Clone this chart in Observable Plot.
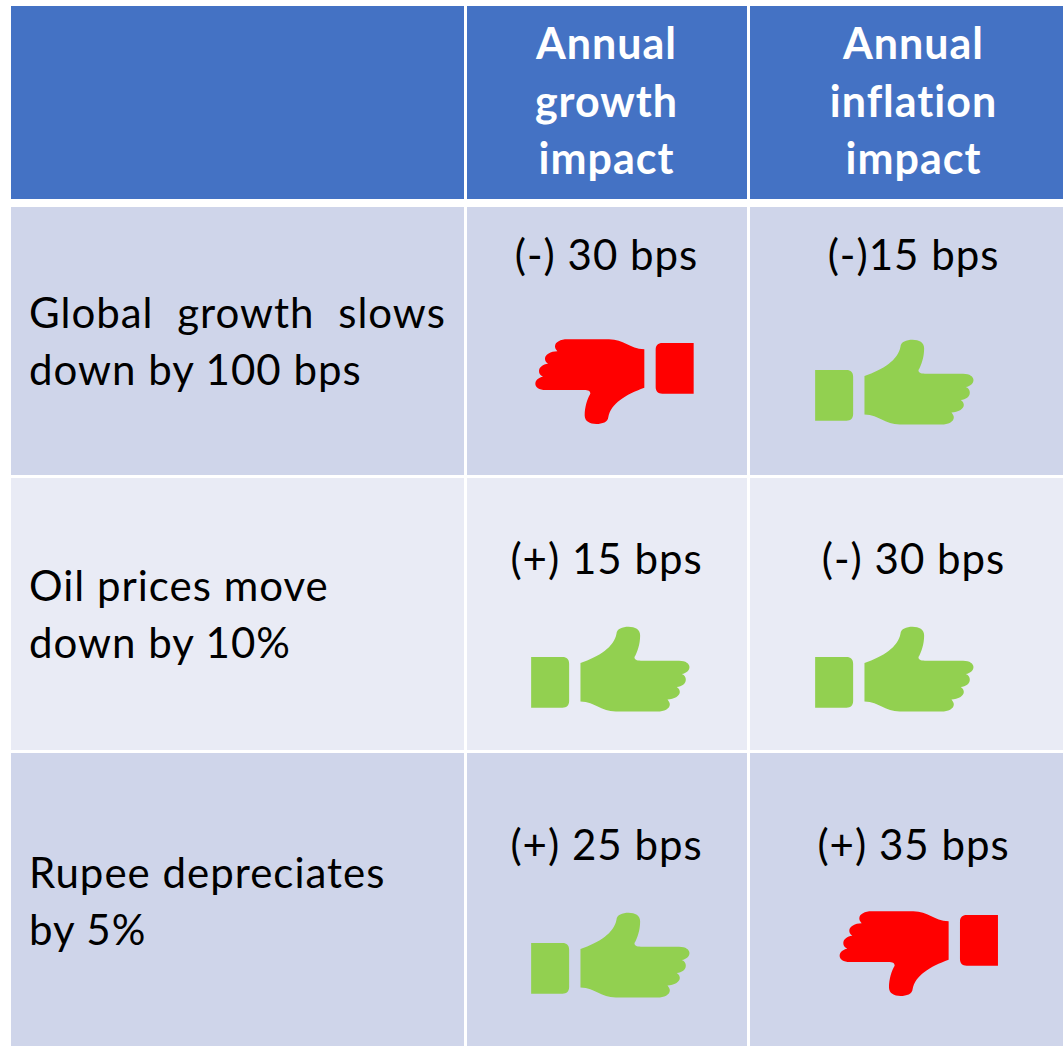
<!DOCTYPE html>
<html>
<head>
<meta charset="utf-8">
<script src="https://cdn.jsdelivr.net/npm/d3@7"></script>
<script src="https://cdn.jsdelivr.net/npm/@observablehq/plot@0.6"></script>
<style>
  html, body { margin: 0; background: #fff; }
  svg { display: block; }
  svg text { letter-spacing: 1px; }
</style>
</head>
<body>
<script>
// Sensitivity table: effect of three macro shocks on growth and inflation.
const columnTitles = [["Annual", "growth", "impact"], ["Annual", "inflation", "impact"]];
const shocks = [
  ["Global growth slows", "down by 100 bps"],
  ["Oil prices move", "down by 10%"],
  ["Rupee depreciates", "by 5%"]
];
const growthImpact = [-30, 15, 25];
const inflationImpact = [-15, -30, 35];
const impactLabels = [
  ["(-) 30 bps", "(-)15 bps"],
  ["(+) 15 bps", "(-) 30 bps"],
  ["(+) 25 bps", "(+) 35 bps"]
];

// Table geometry, kept apart from the figures above.
const colEdges = [[11, 464], [467, 747], [750, 1063]];
const headerEdge = [6, 199];
const rowEdges = [[207, 475], [478, 750], [753, 1046]];
const rowFills = ["#CFD5EA", "#E9EBF5", "#CFD5EA"];
const shockBaselines = [[327, 384], [600, 657], [887, 944]];
const impactCentres = [606, 913];
const impactBaselines = [269, 573, 859];
const headerBaselines = [58, 116, 173];
const thumbCentres = [
  [[614, 381.2], [893.8, 381.6]],
  [[609.8, 668.6], [893.8, 668.6]],
  [[609.8, 954.6], [918.3, 953.2]]
];

// Hand outline, drawn pointing up around the origin; flip = -1 turns it upside down.
function thumbSymbol(flip) {
  const k = flip / 3, cx = 283.5, cy = 171;
  const X = (x) => (x - cx) * k, Y = (y) => (y - cy) * k;
  return {
    draw(c) {
      const C = (a, b, d, e, f, g) => c.bezierCurveTo(X(a), Y(b), X(d), Y(e), X(f), Y(g));
      const L = (x, y) => c.lineTo(X(x), Y(y));
      // cuff
      c.moveTo(X(46), Y(135));
      L(140, 135);
      C(153, 135, 160, 142, 160, 155);
      L(160, 267);
      C(160, 280, 153, 287, 140, 287);
      L(46, 287);
      c.closePath();
      // hand
      c.moveTo(X(194), Y(153));
      C(250, 133, 295, 105, 302, 65);
      C(303, 50, 320, 44, 338, 44);
      C(358, 44, 373, 52, 373, 70);
      C(373, 95, 365, 120, 356, 135);
      C(356, 143, 362, 146, 375, 146);
      L(490, 146);
      C(510, 146, 521, 155, 521, 165);
      C(521, 175, 512, 184, 498, 186);
      C(507, 190, 510, 196, 510, 203);
      C(510, 215, 498, 223, 483, 225);
      C(490, 230, 492, 235, 492, 240);
      C(492, 252, 475, 262, 455, 262);
      C(460, 268, 462, 272, 462, 277);
      C(462, 290, 445, 298, 425, 298);
      L(300, 298);
      C(255, 298, 240, 270, 194, 268);
      c.closePath();
    }
  };
}

const font = "Lato";
const textSize = 42;

// Body cells: higher growth is good, higher inflation is bad.
const cells = shocks.flatMap((_, r) => [growthImpact[r], inflationImpact[r]].map((value, c) => ({
  value,
  label: impactLabels[r][c],
  favourable: c === 0 ? value > 0 : value < 0,
  x: impactCentres[c],
  y: impactBaselines[r],
  tx: thumbCentres[r][c][0],
  ty: thumbCentres[r][c][1]
})));

const backgrounds = [
  ...colEdges.map(([x1, x2]) => ({ x1, x2, y1: headerEdge[0], y2: headerEdge[1], fill: "#4472C4" })),
  ...rowEdges.flatMap(([y1, y2], r) => colEdges.map(([x1, x2]) => ({ x1, x2, y1, y2, fill: rowFills[r] })))
];

const headerLines = columnTitles.flatMap((lines, c) =>
  lines.map((text, i) => ({ text, x: impactCentres[c], y: headerBaselines[i] })));

const shockLines = shocks.flatMap((lines, r) =>
  lines.map((text, i) => ({ text, y: shockBaselines[r][i] })));

const plot = Plot.plot({
  width: 1063,
  height: 1046,
  margin: 0,
  x: { domain: [0, 1063], range: [0, 1063], axis: null },
  y: { domain: [0, 1046], range: [0, 1046], axis: null },
  style: { background: "#fff", fontFamily: font },
  marks: [
    Plot.rect(backgrounds, { x1: "x1", x2: "x2", y1: "y1", y2: "y2", fill: "fill", inset: 0 }),
    Plot.text(headerLines, {
      x: "x", y: "y", text: "text", fill: "#fff", fontSize: textSize + 1, fontWeight: 700,
      lineAnchor: "bottom", textAnchor: "middle", fontFamily: font
    }),
    Plot.text(shockLines, {
      x: 28.5, y: "y", text: "text", fill: "#000", fontSize: textSize,
      lineAnchor: "bottom", textAnchor: "start", fontFamily: font
    }),
    Plot.text(cells, {
      x: "x", y: "y", text: "label", fill: "#000", fontSize: textSize,
      lineAnchor: "bottom", textAnchor: "middle", fontFamily: font
    }),
    Plot.dot(cells.filter((d) => d.favourable), {
      x: "tx", y: "ty", symbol: thumbSymbol(1), fill: "#92D050", stroke: "none", r: 10
    }),
    Plot.dot(cells.filter((d) => !d.favourable), {
      x: "tx", y: "ty", symbol: thumbSymbol(-1), fill: "#FF0000", stroke: "none", r: 10
    })
  ]
});

// The first row label is justified across the width of its cell.
for (const t of plot.querySelectorAll("text")) {
  if (t.textContent === shocks[0][0]) t.style.wordSpacing = "12px";
}
document.body.append(plot);
</script>
</body>
</html>
